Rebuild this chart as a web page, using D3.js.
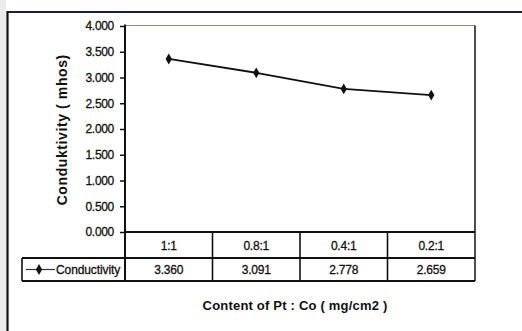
<!DOCTYPE html>
<html>
<head>
<meta charset="utf-8">
<script src="https://cdn.jsdelivr.net/npm/d3@7"></script>
<style>
  html, body { margin: 0; padding: 0; background: #fff; }
  svg { display: block; font-family: "Liberation Sans", Arial, sans-serif; }
</style>
</head>
<body>
<svg id="chart" width="522" height="331"></svg>
<script>
// Conductivity measured for each Pt : Co loading ratio
const categories = ["1:1", "0.8:1", "0.4:1", "0.2:1"];
const conductivity = [3.360, 3.091, 2.778, 2.659];
const valueLabels = ["3.360", "3.091", "2.778", "2.659"];
const yTicks = [0, 0.5, 1, 1.5, 2, 2.5, 3, 3.5, 4];
const seriesName = "Conductivity";

const svg = d3.select("#chart");

// frame geometry
const plot = { left: 125, right: 475, top: 25.5, bottom: 232 };
const row1Bottom = 258;
const row2Bottom = 281;
const legendLeft = 22;
const ink = "#111";

// page frame: shaded left margin, dark rules on top and left
svg.append("rect").attr("x", 0).attr("y", 0).attr("width", 6).attr("height", 331).attr("fill", "#ececec");
svg.append("line").attr("x1", 7).attr("x2", 522).attr("y1", 12).attr("y2", 12)
  .attr("stroke", "#1c1c44").attr("stroke-width", 2);
svg.append("line").attr("x1", 7.5).attr("x2", 7.5).attr("y1", 11).attr("y2", 331)
  .attr("stroke", ink).attr("stroke-width", 2.2);

const x = d3.scaleBand().domain(categories).range([plot.left, plot.right]);
const y = d3.scaleLinear().domain([0, 4]).range([plot.bottom, plot.top + 0.5]);

// plot area border (top light, right dark)
svg.append("line").attr("x1", plot.left).attr("x2", plot.right).attr("y1", plot.top).attr("y2", plot.top)
  .attr("stroke", "#8a8a6a").attr("stroke-width", 1.2);
svg.append("line").attr("x1", plot.right).attr("x2", plot.right).attr("y1", plot.top).attr("y2", row2Bottom)
  .attr("stroke", "#222").attr("stroke-width", 1.6);

// y axis
const yAxis = d3.axisLeft(y).tickValues(yTicks).tickFormat(d3.format(".3f"))
  .tickSizeOuter(0).tickSize(5).tickPadding(6);
const yg = svg.append("g").attr("transform", `translate(${plot.left},0)`).call(yAxis);
yg.select(".domain").remove();
yg.selectAll(".tick line").attr("stroke", ink).attr("stroke-width", 1.5);
yg.selectAll(".tick text").attr("font-size", 12).attr("fill", ink)
  .attr("stroke", ink).attr("stroke-width", 0.3)
  .attr("font-family", "'Liberation Sans', Arial, sans-serif").style("letter-spacing", "-0.3px");
svg.append("line").attr("x1", plot.left).attr("x2", plot.left).attr("y1", plot.top - 1).attr("y2", row2Bottom)
  .attr("stroke", ink).attr("stroke-width", 2);

// y title
svg.append("text")
  .attr("transform", `translate(67,${(plot.top + plot.bottom) / 2 + 1}) rotate(-90)`)
  .attr("text-anchor", "middle").attr("font-size", 14).attr("font-weight", "bold").attr("fill", ink)
  .style("letter-spacing", "0.6px")
  .text("Conduktivity ( mhos)");

// data table below the plot
svg.append("line").attr("x1", plot.left).attr("x2", plot.right).attr("y1", plot.bottom).attr("y2", plot.bottom)
  .attr("stroke", ink).attr("stroke-width", 1.8);
[row1Bottom, row2Bottom].forEach(yy => {
  svg.append("line").attr("x1", legendLeft).attr("x2", plot.right).attr("y1", yy).attr("y2", yy)
    .attr("stroke", ink).attr("stroke-width", 1.8);
});
svg.append("line").attr("x1", legendLeft).attr("x2", legendLeft).attr("y1", row1Bottom).attr("y2", row2Bottom)
  .attr("stroke", ink).attr("stroke-width", 1.6);
categories.slice(1).forEach(c => {
  svg.append("line").attr("x1", x(c)).attr("x2", x(c)).attr("y1", plot.bottom).attr("y2", row2Bottom)
    .attr("stroke", ink).attr("stroke-width", 1.6);
});

const cellText = sel => sel.attr("text-anchor", "middle").attr("font-size", 12).attr("fill", ink)
  .attr("stroke", ink).attr("stroke-width", 0.3).style("letter-spacing", "-0.2px");

svg.append("g").selectAll("text").data(categories).join("text")
  .attr("x", d => x(d) + x.bandwidth() / 2).attr("y", (plot.bottom + row1Bottom) / 2 + 4.5)
  .call(cellText)
  .text(d => d);

svg.append("g").selectAll("text").data(valueLabels).join("text")
  .attr("x", (d, i) => x(categories[i]) + x.bandwidth() / 2).attr("y", (row1Bottom + row2Bottom) / 2 + 4.5)
  .call(cellText)
  .text(d => d);

// legend key inside the table
const diamond = d3.symbol().type(d3.symbolDiamond).size(34);
const ly = (row1Bottom + row2Bottom) / 2;
svg.append("line").attr("x1", 26).attr("x2", 55).attr("y1", ly).attr("y2", ly)
  .attr("stroke", "#333").attr("stroke-width", 1.2);
svg.append("path").attr("d", diamond).attr("transform", `translate(39,${ly})`).attr("fill", ink);
svg.append("text").attr("x", 56).attr("y", ly + 4.5).attr("font-size", 12).attr("fill", ink)
  .attr("stroke", ink).attr("stroke-width", 0.3)
  .style("letter-spacing", "-0.1px").text(seriesName);

// series line with diamond markers
const line = d3.line()
  .x((d, i) => x(categories[i]) + x.bandwidth() / 2)
  .y(d => y(d));
svg.append("path").datum(conductivity).attr("d", line)
  .attr("fill", "none").attr("stroke", ink).attr("stroke-width", 1.8);
svg.append("g").selectAll("path").data(conductivity).join("path")
  .attr("d", diamond)
  .attr("transform", (d, i) => `translate(${x(categories[i]) + x.bandwidth() / 2},${y(d)})`)
  .attr("fill", ink);

// x title
svg.append("text").attr("x", 295).attr("y", 310).attr("text-anchor", "middle")
  .attr("font-size", 13).attr("font-weight", "bold").attr("fill", ink)
  .style("letter-spacing", "0.2px")
  .text("Content of Pt : Co ( mg/cm2 )");
</script>
</body>
</html>
